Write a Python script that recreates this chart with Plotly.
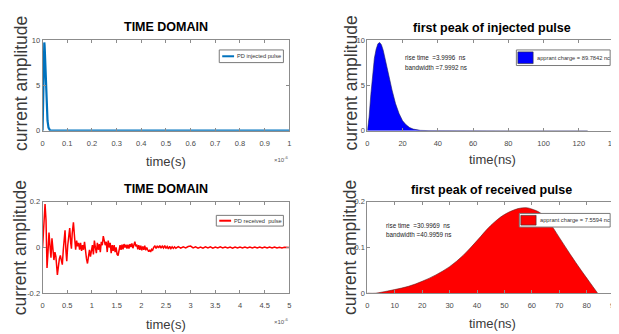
import plotly.graph_objects as go

# ---------------- data ----------------
# injected PD pulse (time in ns, amplitude)
t_inj_ns = [0, 1, 2, 3, 4, 5, 6, 7, 8, 9, 10, 11, 12, 13, 14, 15, 16, 18, 20, 22, 24,
            26, 28, 30, 35, 40, 60, 80, 100, 125]
v_inj = [0, 1.5, 4.0, 6.3, 8.0, 9.0, 9.6, 9.75, 9.5, 8.9, 8.1, 7.2, 6.3, 5.4, 4.5, 3.7,
         3.0, 1.9, 1.1, 0.65, 0.35, 0.18, 0.09, 0.04, 0.01, 0, 0, 0, 0, 0]
# full-window injected pulse (time in units of 1e-6 s)
t_inj_full = [0, 0.001, 0.002, 0.003, 0.004, 0.005, 0.006, 0.007, 0.008, 0.009, 0.010,
              0.012, 0.014, 0.016, 0.018, 0.020, 0.024, 0.030, 0.1, 0.5, 1.0]
v_inj_full = [0, 1.5, 4.0, 6.3, 8.0, 9.0, 9.6, 9.75, 9.5, 8.9, 8.1,
              6.3, 4.5, 3.0, 1.9, 1.1, 0.35, 0.04, 0, 0, 0]

# received PD pulse (time in units of 1e-6 s)
t_rec_full = [0.000, 0.025, 0.050, 0.070, 0.090, 0.110, 0.130, 0.150, 0.170, 0.190,
              0.210, 0.230, 0.250, 0.270, 0.300, 0.320, 0.340, 0.360, 0.380, 0.400,
              0.420, 0.440, 0.455, 0.475, 0.490, 0.510, 0.530, 0.550, 0.570, 0.585,
              0.600, 0.625, 0.650, 0.670, 0.690, 0.710, 0.730, 0.750, 0.770, 0.790,
              0.810, 0.830, 0.850, 0.870, 0.890, 0.910, 0.930, 0.950, 0.970, 0.990,
              1.010, 1.030, 1.050, 1.070, 1.090, 1.110, 1.130, 1.150, 1.170, 1.190,
              1.210, 1.230, 1.250, 1.270, 1.290, 1.310, 1.330, 1.350, 1.370, 1.390,
              1.410, 1.430, 1.450, 1.470, 1.490, 1.510, 1.530, 1.550, 1.570, 1.590,
              1.610, 1.630, 1.650, 1.670, 1.690, 1.710, 1.730, 1.750, 1.770, 1.790,
              1.810, 1.830, 1.850, 1.870, 1.890, 1.910, 1.930, 1.950, 1.970, 1.990,
              2.010, 2.030, 2.050, 2.070, 2.090, 2.110, 2.130, 2.150, 2.170, 2.190,
              2.210, 2.230, 2.250, 2.275, 2.300, 2.325, 2.350, 2.375, 2.400, 2.425,
              2.450, 2.475, 2.500, 2.525, 2.550, 2.575, 2.600, 2.625, 2.650, 2.675,
              2.700, 2.750, 2.800, 2.850, 2.900, 2.950, 3.000, 3.050, 3.100, 3.150,
              3.200, 3.250, 3.300, 3.350, 3.400, 3.450, 3.500, 3.550, 3.600, 3.650,
              3.700, 3.750, 3.800, 3.850, 3.900, 3.950, 4.000, 4.050, 4.100, 4.150,
              4.200, 4.250, 4.300, 4.350, 4.400, 4.450, 4.500, 4.550, 4.600, 4.650,
              4.700, 4.750, 4.800, 4.850, 4.900, 4.950, 5.000]
v_rec_full = [0.000, 0.080, 0.190, 0.120, -0.090, -0.020, 0.065, 0.010, -0.045, 0.040,
              0.000, -0.055, -0.020, -0.040, -0.120, -0.080, -0.050, -0.035, -0.060, -0.075,
              -0.010, 0.055, 0.075, -0.020, -0.060, 0.010, 0.060, 0.085, 0.020, -0.005,
              0.060, 0.110, 0.040, -0.010, 0.030, 0.005, 0.020, -0.010, 0.020, -0.015,
              0.010, -0.010, 0.025, -0.020, -0.050, -0.070, -0.030, -0.010, -0.040, -0.020,
              0.010, -0.030, 0.030, 0.000, -0.025, 0.020, -0.010, 0.015, -0.020, 0.025,
              0.010, 0.050, 0.030, 0.010, 0.025, -0.020, 0.030, 0.000, 0.020, -0.025,
              0.010, -0.015, 0.010, -0.020, 0.000, -0.030, -0.035, -0.005, 0.010, -0.010,
              0.012, -0.008, 0.015, 0.000, 0.012, -0.005, 0.012, -0.005, 0.015, 0.002,
              0.018, -0.003, 0.015, 0.025, 0.005, 0.012, -0.008, 0.010, -0.010, 0.008,
              -0.012, 0.005, -0.010, 0.008, -0.012, 0.000, -0.010, -0.018, -0.010, -0.020,
              -0.008, -0.012, 0.000, 0.006, -0.004, 0.007, -0.002, 0.008, -0.003, 0.006,
              -0.002, 0.008, -0.004, 0.004, -0.006, 0.005, -0.005, 0.003, -0.004, 0.003,
              -0.003, 0.004, -0.003, 0.003, -0.002, 0.004, 0.006, -0.002, 0.003, -0.003,
              0.002, -0.003, 0.003, -0.002, 0.003, -0.003, 0.002, -0.002, 0.003, -0.002,
              0.002, -0.002, 0.002, -0.003, 0.002, -0.002, 0.002, -0.002, 0.002, -0.002,
              0.002, -0.002, 0.002, -0.002, 0.002, -0.002, 0.002, -0.002, 0.002, -0.002,
              0.002, -0.002, 0.001, -0.002, 0.001, -0.001, 0.000]

# first peak of received pulse (time in ns)
t_rec_ns = [0, 3, 5, 10, 15, 20, 25, 30, 35, 40, 45, 50, 55, 58, 60, 63, 66, 70, 74,
            78, 81, 84]
v_rec = [0, 0, 0.002, 0.008, 0.015, 0.026, 0.040, 0.058, 0.083, 0.115, 0.148, 0.172,
         0.185, 0.187, 0.184, 0.176, 0.158, 0.122, 0.085, 0.050, 0.025, 0]

titles = ["TIME DOMAIN", "first peak of injected pulse", "TIME DOMAIN",
          "first peak of received pulse"]
y_label = "current amplitude"
x_labels = ["time(s)", "time(ns)", "time(s)", "time(ns)"]
legend_names = ["PD injected pulse", "apprant charge = 89.7842 nc",
                "PD received  pulse", "apprant charge = 7.5594 nc"]
info_inj = ["rise time  =3.9996  ns", "bandwidth =7.9992 ns"]
info_rec = ["rise time  =30.9969  ns", "bandwidth =40.9959 ns"]

x1_ticks = [0, 0.1, 0.2, 0.3, 0.4, 0.5, 0.6, 0.7, 0.8, 0.9, 1]
x1_text = ["0", "0.1", "0.2", "0.3", "0.4", "0.5", "0.6", "0.7", "0.8", "0.9", "1"]
x2_ticks = [0, 20, 40, 60, 80, 100, 120, 140]
x3_ticks = [0, 0.5, 1, 1.5, 2, 2.5, 3, 3.5, 4, 4.5, 5]
x3_text = ["0", "0.5", "1", "1.5", "2", "2.5", "3", "3.5", "4", "4.5", "5"]
x4_ticks = [0, 10, 20, 30, 40, 50, 60, 70, 80, 90]
y1_ticks = [0, 5, 10]
y3_ticks = [-0.2, 0, 0.2]
y3_text = ["-0.2", "0", "0.2"]
y4_ticks = [0, 0.1, 0.2]
y4_text = ["0", "0.1", "0.2"]

# ---------------- figure ----------------
W, H = 619, 334
FONT = "Liberation Sans, Arial, sans-serif"


def px(x):
    return x / W


def py(y):
    return 1 - y / H


fig = go.Figure()

fig.add_trace(go.Scatter(x=t_inj_full, y=v_inj_full, mode="lines",
                         line=dict(color="#0072BD", width=2.2),
                         name=legend_names[0], showlegend=False,
                         xaxis="x", yaxis="y"))
fig.add_trace(go.Scatter(x=t_inj_ns, y=v_inj, mode="lines", fill="tozeroy",
                         fillcolor="#0000FF", line=dict(color="#202060", width=0.6),
                         name=legend_names[1], showlegend=False,
                         xaxis="x2", yaxis="y2"))
fig.add_trace(go.Scatter(x=t_rec_full, y=v_rec_full, mode="lines",
                         line=dict(color="#FF0000", width=1.5),
                         name=legend_names[2], showlegend=False,
                         xaxis="x3", yaxis="y3"))
fig.add_trace(go.Scatter(x=t_rec_ns, y=v_rec, mode="lines", fill="tozeroy",
                         line_shape="spline",
                         fillcolor="#FF0000", line=dict(color="#602020", width=0.6),
                         name=legend_names[3], showlegend=False,
                         xaxis="x4", yaxis="y4"))

axcommon = dict(showline=True, linecolor="#8c8c8c", linewidth=1, mirror="ticks",
                ticks="inside", ticklen=3, tickcolor="#8c8c8c", showgrid=False,
                zeroline=False, tickfont=dict(family=FONT, size=7.5, color="#4a4a4a"))

dom_left = [px(33), px(283)]
dom_right = [px(362), px(612)]
dom_top = [py(122), py(29)]
dom_bot = [py(289), py(195)]

fig.update_layout(
    width=W, height=H, margin=dict(l=0, r=0, t=0, b=0),
    paper_bgcolor="white", plot_bgcolor="white",
    xaxis=dict(domain=dom_left, anchor="y", range=[0, 1], tickvals=x1_ticks,
               ticktext=x1_text, ticklabelstandoff=5, **axcommon),
    yaxis=dict(domain=dom_top, anchor="x", range=[0, 10], tickvals=y1_ticks, **axcommon),
    xaxis2=dict(domain=dom_right, anchor="y2", range=[0, 140], tickvals=x2_ticks,
                ticklabelstandoff=5, **axcommon),
    yaxis2=dict(domain=dom_top, anchor="x2", range=[0, 10], tickvals=y1_ticks, **axcommon),
    xaxis3=dict(domain=dom_left, anchor="y3", range=[0, 5], tickvals=x3_ticks,
                ticktext=x3_text, ticklabelstandoff=5, **axcommon),
    yaxis3=dict(domain=dom_bot, anchor="x3", range=[-0.2, 0.2], tickvals=y3_ticks,
                ticktext=y3_text, **axcommon),
    xaxis4=dict(domain=dom_right, anchor="y4", range=[0, 90], tickvals=x4_ticks,
                ticklabelstandoff=5, **axcommon),
    yaxis4=dict(domain=dom_bot, anchor="x4", range=[0, 0.2], tickvals=y4_ticks,
                ticktext=y4_text, **axcommon),
)

ann = []
shapes = []

# titles
title_pos = [(158, 15), (488, 16), (158, 182), (488, 183)]
for t, (x, y) in zip(titles, title_pos):
    ann.append(dict(text=t, x=px(x), y=py(y), xref="paper", yref="paper",
                    showarrow=False, xanchor="center", yanchor="middle",
                    font=dict(family=FONT, size=12.5, color="#000000", weight="bold")))

# y labels
ylab_pos = [(11, 73), (345, 73), (11, 242), (345, 242)]
for (x, y) in ylab_pos:
    ann.append(dict(text=y_label, x=px(x), y=py(y), xref="paper", yref="paper",
                    showarrow=False, xanchor="center", yanchor="middle", textangle=-90,
                    font=dict(family=FONT, size=17.5, color="#3a3a3a")))

# x labels
xlab_pos = [(158, 154), (489, 152), (158, 321), (489, 320)]
for t, (x, y) in zip(x_labels, xlab_pos):
    ann.append(dict(text=t, x=px(x), y=py(y), xref="paper", yref="paper",
                    showarrow=False, xanchor="center", yanchor="middle",
                    font=dict(family=FONT, size=13, color="#3a3a3a")))

# exponent labels
for (x, y) in [(275, 151), (275, 318)]:
    ann.append(dict(text="×10<sup>-6</sup>", x=px(x), y=py(y), xref="paper", yref="paper",
                    showarrow=False, xanchor="center", yanchor="middle",
                    font=dict(family=FONT, size=6, color="#555555")))

# info text
for lines, (x, y0, y1) in [(info_inj, (398, 47, 57)), (info_rec, (379, 219, 229))]:
    for line, y in zip(lines, (y0, y1)):
        ann.append(dict(text=line, x=px(x), y=py(y), xref="paper", yref="paper",
                        showarrow=False, xanchor="left", yanchor="middle",
                        font=dict(family=FONT, size=6.3, color="#222222")))

# legends (drawn manually)
leg_specs = [
    (212, 277, 39, 52, "line", "#0072BD", 228, legend_names[0]),
    (513, 608, 39, 55, "rect", "#0000FF", 532, legend_names[1]),
    (209, 277, 209, 220, "line", "#FF0000", 225, legend_names[2]),
    (516, 608, 207, 221, "rect", "#FF0000", 535, legend_names[3]),
]
for (x0, x1, y0, y1, kind, col, tx, name) in leg_specs:
    shapes.append(dict(type="rect", xref="paper", yref="paper",
                       x0=px(x0), x1=px(x1), y0=py(y1), y1=py(y0),
                       line=dict(color="#7a7a7a", width=1), fillcolor="white", layer="above"))
    ym = (y0 + y1) / 2
    if kind == "line":
        shapes.append(dict(type="line", xref="paper", yref="paper",
                           x0=px(x0 + 3), x1=px(tx - 1), y0=py(ym), y1=py(ym),
                           line=dict(color=col, width=2), layer="above"))
    else:
        shapes.append(dict(type="rect", xref="paper", yref="paper",
                           x0=px(x0 + 1.5), x1=px(tx - 2), y0=py(y1 - 2), y1=py(y0 + 2),
                           line=dict(color="#333333", width=0.6), fillcolor=col,
                           layer="above"))
    ann.append(dict(text=name, x=px(tx), y=py(ym), xref="paper", yref="paper",
                    showarrow=False, xanchor="left", yanchor="middle",
                    font=dict(family=FONT, size=5.7, color="#333333")))

fig.update_layout(annotations=ann, shapes=shapes)

fig.write_html("out.html")
